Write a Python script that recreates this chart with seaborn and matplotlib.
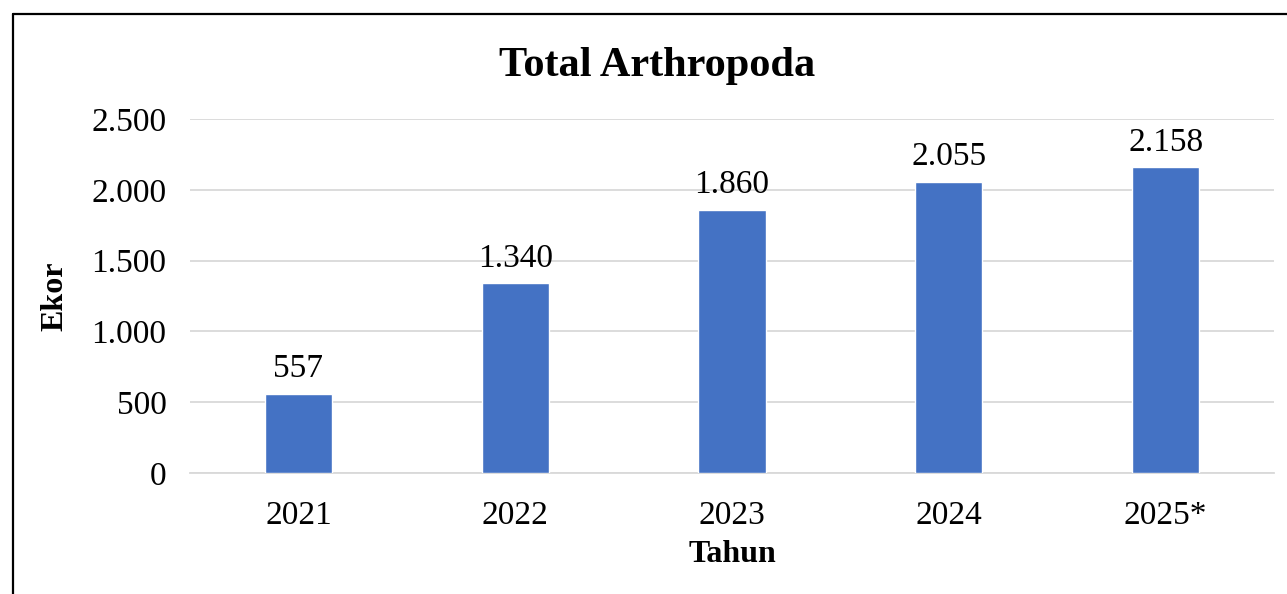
"""
Total Arthropoda per tahun — bar chart.
"""

import matplotlib

matplotlib.use("Agg")
import matplotlib.pyplot as plt
import pandas as pd
import seaborn as sns
from matplotlib.lines import Line2D
from matplotlib.ticker import FuncFormatter

years = ["2021", "2022", "2023", "2024", "2025*"]
totals = [557, 1340, 1860, 2055, 2158]
y_ticks = [0, 500, 1000, 1500, 2000, 2500]

BAR_COLOR = "#4472C4"
GRID_COLOR = "#d9d9d9"


def dot_thousands(v, _pos=None):
    return f"{int(round(v)):,}".replace(",", ".")


df = pd.DataFrame({"Tahun": years, "Ekor": totals})

sns.set_theme(style="white")
plt.rcParams["font.family"] = ["Liberation Serif", "DejaVu Serif"]
plt.rcParams["text.color"] = "black"
plt.rcParams["axes.labelcolor"] = "black"

fig = plt.figure(figsize=(12.87, 5.94), dpi=100)
ax = fig.add_axes([190 / 1287, 1 - 473 / 594, 1084 / 1287, 354 / 594])

sns.barplot(data=df, x="Tahun", y="Ekor", color=BAR_COLOR, width=0.31,
            saturation=1, ax=ax, zorder=3)

ax.set_ylim(0, 2500)
ax.set_yticks(y_ticks)
ax.yaxis.set_major_formatter(FuncFormatter(dot_thousands))
ax.grid(axis="y", color=GRID_COLOR, linewidth=1.3, zorder=0)
ax.grid(axis="x", visible=False)
for side in ["top", "right", "left"]:
    ax.spines[side].set_visible(False)
ax.spines["bottom"].set_color(GRID_COLOR)
ax.spines["bottom"].set_linewidth(1.3)
ax.tick_params(axis="both", length=0, labelsize=24, colors="black")
ax.tick_params(axis="y", pad=17)
ax.tick_params(axis="x", pad=20)

for container in ax.containers:
    ax.bar_label(container, labels=[dot_thousands(v) for v in container.datavalues],
                 padding=7, fontsize=24)

ax.set_xlabel("Tahun", fontsize=23, fontweight="bold", labelpad=6)
ax.set_ylabel("Ekor", fontsize=23, fontweight="bold", labelpad=16)
fig.text(657 / 1287, 1 - 66 / 594, "Total Arthropoda", fontsize=30.5,
         fontweight="bold", ha="center", va="center")

# frame of the chart area (partly cropped in the original)
fig.add_artist(Line2D([13 / 1287, 1], [1 - 14 / 594, 1 - 14 / 594],
                      transform=fig.transFigure, color="black", linewidth=1.6))
fig.add_artist(Line2D([13 / 1287, 13 / 1287], [0, 1 - 14 / 594],
                      transform=fig.transFigure, color="black", linewidth=1.6))

fig.savefig("out.png", dpi=100)
plt.close(fig)
